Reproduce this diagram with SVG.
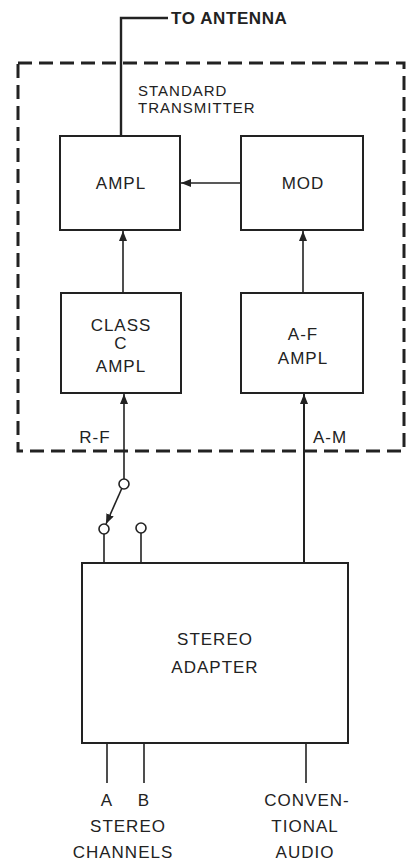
<svg xmlns="http://www.w3.org/2000/svg" width="415" height="863" viewBox="0 0 415 863">
<style>
.box{fill:#fff;stroke:#222;stroke-width:2}
.ln{fill:none;stroke:#222;stroke-width:1.6}
.t{font-family:"Liberation Sans",Arial,sans-serif;font-size:17px;letter-spacing:1px;fill:#222;text-anchor:middle}
.s{font-size:15px;text-anchor:start}
.dash{fill:none;stroke:#222;stroke-width:3;stroke-dasharray:14 7}
.term{fill:#fff;stroke:#222;stroke-width:1.6}
</style>
<defs>
<marker id="ah" viewBox="0 0 10 8" refX="10" refY="4" markerWidth="10" markerHeight="8" markerUnits="userSpaceOnUse" orient="auto">
<path d="M0,0 L10,4 L0,8 Z" fill="#222"/>
</marker>
</defs>
<rect width="415" height="863" fill="#fff"/>
<g id="transmitter">
<rect class="dash" x="18" y="63" width="386" height="388"/>
<text class="t s" x="138" y="96">STANDARD</text>
<text class="t s" x="138" y="113">TRANSMITTER</text>
</g>
<g id="ampl">
<rect class="box" x="60" y="136" width="120" height="94"/>
<text class="t" x="121" y="189">AMPL</text>
</g>
<g id="mod">
<rect class="box" x="241" y="136" width="122" height="94"/>
<text class="t" x="303" y="189">MOD</text>
</g>
<g id="classc">
<rect class="box" x="61" y="293" width="120" height="100"/>
<text class="t" x="121" y="331">CLASS</text>
<text class="t" x="121" y="349">C</text>
<text class="t" x="121" y="372">AMPL</text>
</g>
<g id="afampl">
<rect class="box" x="241" y="293" width="122" height="100"/>
<text class="t" x="303" y="340">A-F</text>
<text class="t" x="303" y="364">AMPL</text>
</g>
<g id="adapter">
<rect class="box" x="82" y="563" width="266" height="180"/>
<text class="t" x="215" y="645">STEREO</text>
<text class="t" x="215" y="673">ADAPTER</text>
</g>
<g id="labels">
<text class="t" x="171" y="24" style="text-anchor:start;font-weight:bold;letter-spacing:0.6px">TO ANTENNA</text>
<text class="t" x="95" y="443">R-F</text>
<text class="t" x="330" y="443">A-M</text>
<text class="t" x="107" y="806">A</text>
<text class="t" x="144" y="806">B</text>
<text class="t" x="128" y="832">STEREO</text>
<text class="t" x="123" y="858">CHANNELS</text>
<text class="t" x="307" y="806">CONVEN-</text>
<text class="t" x="305" y="832">TIONAL</text>
<text class="t" x="305" y="858">AUDIO</text>
</g>
<g id="connectors">
<polyline class="ln" points="121,136 121,18 168,18" style="stroke-width:2.4"/>
<line class="ln" x1="241" y1="183" x2="181" y2="183" marker-end="url(#ah)"/>
<line class="ln" x1="123" y1="293" x2="123" y2="231" marker-end="url(#ah)"/>
<line class="ln" x1="303" y1="293" x2="303" y2="231" marker-end="url(#ah)"/>
<line class="ln" x1="124" y1="479" x2="124" y2="394" marker-end="url(#ah)"/>
<line class="ln" x1="304" y1="563" x2="304" y2="394" marker-end="url(#ah)" style="stroke-width:2"/>
<line class="ln" x1="122" y1="488" x2="106" y2="524" marker-end="url(#ah)"/>
<line class="ln" x1="104" y1="534" x2="104" y2="563"/>
<line class="ln" x1="141" y1="533" x2="141" y2="563"/>
<line class="ln" x1="107" y1="743" x2="107" y2="783"/>
<line class="ln" x1="144" y1="743" x2="144" y2="783"/>
<line class="ln" x1="306" y1="743" x2="306" y2="783"/>
<circle class="term" cx="124" cy="484" r="5"/>
<circle class="term" cx="104" cy="529" r="5"/>
<circle class="term" cx="141" cy="528" r="5"/>
</g>
</svg>
